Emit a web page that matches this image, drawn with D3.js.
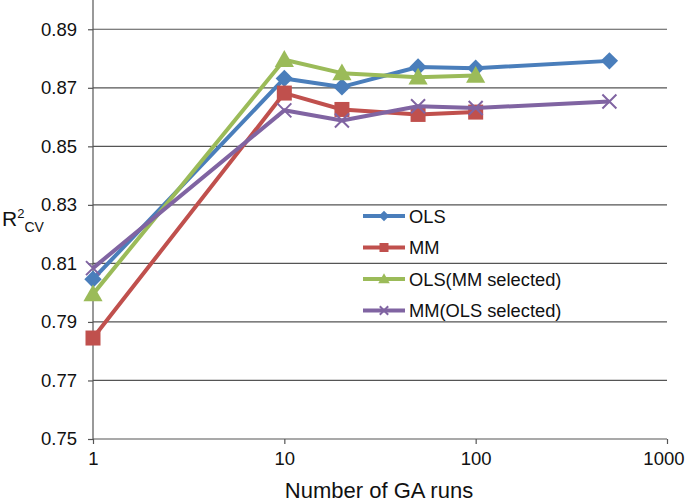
<!DOCTYPE html>
<html><head><meta charset="utf-8">
<script src="https://cdn.jsdelivr.net/npm/d3@7/dist/d3.min.js"></script>
<style>body{margin:0;background:#fff}svg{display:block;font-family:"Liberation Sans",Arial,sans-serif}</style>
</head><body><svg id="c" width="685" height="504"></svg>
<script>
const runs = [1, 10, 20, 50, 100, 500];
const ols = [0.8046, 0.8732, 0.8703, 0.8771, 0.8767, 0.8792];
const mm = [0.7845, 0.8682, 0.8626, 0.8609, 0.8617];
const olsMM = [0.7995, 0.8796, 0.8750, 0.8736, 0.8742];
const mmOLS = [0.8084, 0.8623, 0.8588, 0.8637, 0.8631, 0.8653];
const seriesNames = ["OLS", "MM", "OLS(MM selected)", "MM(OLS selected)"];
const yTicks = [0.75, 0.77, 0.79, 0.81, 0.83, 0.85, 0.87, 0.89];
const xTicks = [1, 10, 100, 1000];

const colors = ["#4A7EBB", "#C0504D", "#9BBB59", "#8064A2"];
const shapes = ["diamond", "square", "triangle", "x"];
const series = [ols, mm, olsMM, mmOLS].map((v, i) => ({
  name: seriesNames[i], color: colors[i], shape: shapes[i],
  pts: v.map((y, j) => ({x: runs[j], y}))
}));

const svg = d3.select("#c");
const x = d3.scaleLog().domain([1, 1000]).range([93, 667]);
const y = d3.scaleLinear().domain([0.75, 0.90]).range([439, 0]);

// gridlines
svg.append("g").selectAll("line").data(yTicks.slice(1)).join("line")
  .attr("x1", x(1)).attr("x2", x(1000))
  .attr("y1", d => y(d)).attr("y2", d => y(d))
  .attr("stroke", "#555").attr("stroke-width", 1.2);

// axes
const yAxis = svg.append("g").attr("transform", `translate(${x(1)},0)`)
  .call(d3.axisLeft(y).tickValues(yTicks).tickFormat(d3.format(".2f")).tickSize(5).tickPadding(11));
yAxis.select(".domain").attr("d", `M0,${y(0.75)}V0`).attr("stroke", "#555").attr("stroke-width", 1.2);
const xAxis = svg.append("g").attr("transform", `translate(0,${y(0.75)})`)
  .call(d3.axisBottom(x).tickValues(xTicks).tickFormat(d3.format("d")).tickSize(5).tickPadding(5));
xAxis.select(".domain").attr("d", `M${x(1)},0H${x(1000)}`).attr("stroke", "#555").attr("stroke-width", 1.2);
svg.selectAll(".tick line").attr("stroke", "#555").attr("stroke-width", 1.2);
svg.selectAll(".tick text").attr("font-size", 18.5).attr("fill", "#111").attr("font-family", "Liberation Sans, Arial, sans-serif");
xAxis.selectAll(".tick text").attr("dy", "0.85em");
xAxis.selectAll(".tick").filter(d => d === 1000).select("text")
  .attr("text-anchor", "end").attr("x", 684 - x(1000));

// markers
function marker(g, shape, color, s) {
  if (shape === "diamond") g.append("path").attr("d", `M0,${-s*0.62}L${s*0.62},0L0,${s*0.62}L${-s*0.62},0Z`).attr("fill", color);
  else if (shape === "square") g.append("rect").attr("x", -s/2).attr("y", -s/2).attr("width", s).attr("height", s).attr("fill", color);
  else if (shape === "triangle") g.append("path").attr("d", `M0,${-s*0.6}L${s*0.6},${s*0.45}L${-s*0.6},${s*0.45}Z`).attr("fill", color);
  else g.append("path").attr("d", `M${-s/2},${-s/2}L${s/2},${s/2}M${s/2},${-s/2}L${-s/2},${s/2}`).attr("stroke", color).attr("stroke-width", 2);
}
const sizes = {diamond: 14, square: 15, triangle: 16, x: 14};

const line = d3.line().x(d => x(d.x)).y(d => y(d.y));
series.forEach(s => {
  svg.append("path").datum(s.pts).attr("d", line).attr("fill", "none")
    .attr("stroke", s.color).attr("stroke-width", 4).attr("stroke-linejoin", "round");
  s.pts.forEach(p => {
    const g = svg.append("g").attr("transform", `translate(${x(p.x)},${y(p.y)})`);
    marker(g, s.shape, s.color, sizes[s.shape]);
  });
});

// legend
const leg = svg.append("g");
series.forEach((s, i) => {
  const cy = 216 + i * 31.5;
  leg.append("line").attr("x1", 363).attr("x2", 405).attr("y1", cy).attr("y2", cy)
    .attr("stroke", s.color).attr("stroke-width", 4);
  const g = leg.append("g").attr("transform", `translate(384,${cy})`);
  marker(g, s.shape, s.color, sizes[s.shape] * 0.6);
  leg.append("text").attr("x", 409).attr("y", cy).attr("dy", "0.36em")
    .attr("font-size", 18.3).attr("fill", "#111").text(s.name);
});

// axis titles
const yl = svg.append("text").attr("x", 2).attr("y", 226).attr("font-size", 21).attr("fill", "#111");
yl.append("tspan").text("R");
yl.append("tspan").attr("font-size", 13).attr("dy", -8).text("2");
yl.append("tspan").attr("font-size", 14).attr("dy", 14).text("CV");
svg.append("text").attr("x", 379).attr("y", 498).attr("text-anchor", "middle")
  .attr("font-size", 22).attr("fill", "#111").text("Number of GA runs");
</script></body></html>
